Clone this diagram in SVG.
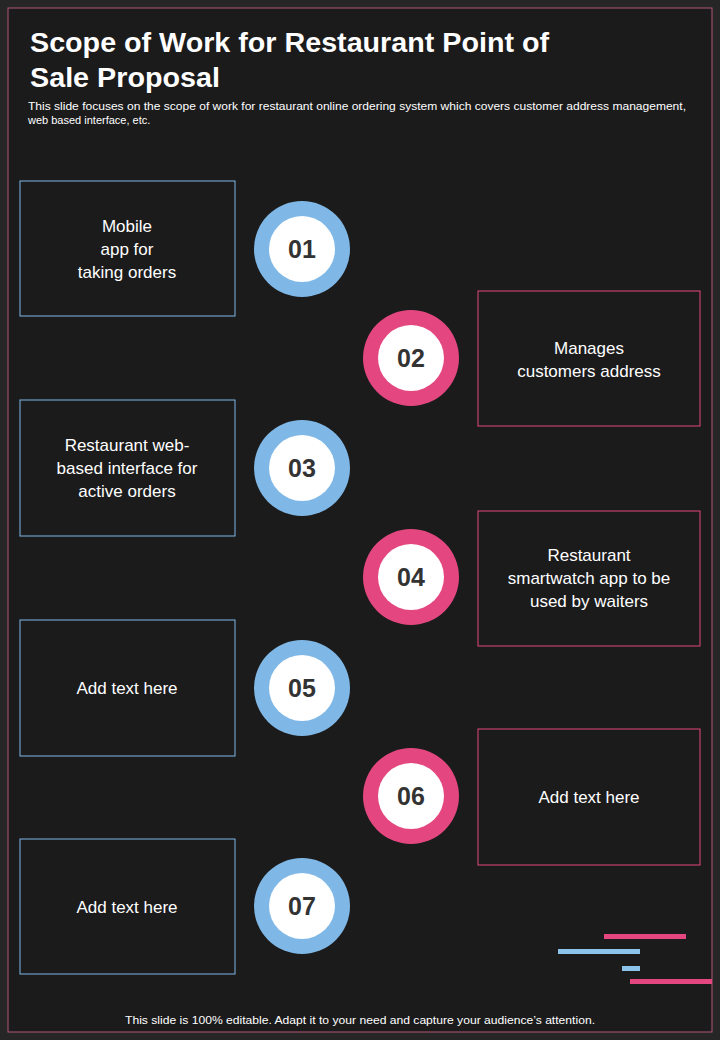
<svg xmlns="http://www.w3.org/2000/svg" width="720" height="1040" viewBox="0 0 720 1040">
<style>
text{font-family:"Liberation Sans",Arial,sans-serif;fill:#fff}
.bl{fill:none;stroke:#7fb8e6;stroke-width:1}
.pk{fill:none;stroke:#e4477f;stroke-width:1}
.cb{fill:#7fb8e6}.cp{fill:#e4477f}.ci{fill:#fff}
.num{fill:#333;font-size:25px;font-weight:bold;text-anchor:middle}
.lbl{font-size:17px;text-anchor:middle}
</style>
<rect width="720" height="1040" fill="#262626"/>
<rect x="8" y="8" width="704" height="1024" fill="#1b1b1c" stroke="#b0567a" stroke-width="1"/>
<text x="30" y="52" font-size="27" font-weight="bold" textLength="519" lengthAdjust="spacingAndGlyphs">Scope of Work for Restaurant Point of</text>
<text x="30" y="87" font-size="27" font-weight="bold" textLength="190" lengthAdjust="spacingAndGlyphs">Sale Proposal</text>
<text x="28" y="110" font-size="11" textLength="658" lengthAdjust="spacingAndGlyphs">This slide focuses on the scope of work for restaurant online ordering system which covers customer address management,</text>
<text x="28" y="124" font-size="11">web based interface, etc.</text>
<g id="n1"><rect class="bl" x="20" y="181" width="215" height="135"/><text class="lbl" x="127" y="232">Mobile</text><text class="lbl" x="127" y="255">app for</text><text class="lbl" x="127" y="278">taking orders</text>
<circle class="cb" cx="302" cy="249" r="48"/><circle class="ci" cx="302" cy="249" r="33"/><text class="num" x="302" y="258">01</text></g>
<g id="n2"><rect class="pk" x="478" y="291" width="222" height="135"/><text class="lbl" x="589" y="354">Manages</text><text class="lbl" x="589" y="377">customers address</text>
<circle class="cp" cx="411" cy="358" r="48"/><circle class="ci" cx="411" cy="358" r="33"/><text class="num" x="411" y="367">02</text></g>
<g id="n3"><rect class="bl" x="20" y="400" width="215" height="136"/><text class="lbl" x="127" y="451">Restaurant web-</text><text class="lbl" x="127" y="474">based interface for</text><text class="lbl" x="127" y="497">active orders</text>
<circle class="cb" cx="302" cy="468" r="48"/><circle class="ci" cx="302" cy="468" r="33"/><text class="num" x="302" y="477">03</text></g>
<g id="n4"><rect class="pk" x="478" y="511" width="222" height="135"/><text class="lbl" x="589" y="561">Restaurant</text><text class="lbl" x="589" y="584">smartwatch app to be</text><text class="lbl" x="589" y="607">used by waiters</text>
<circle class="cp" cx="411" cy="577" r="48"/><circle class="ci" cx="411" cy="577" r="33"/><text class="num" x="411" y="586">04</text></g>
<g id="n5"><rect class="bl" x="20" y="620" width="215" height="136"/><text class="lbl" x="127" y="694">Add text here</text>
<circle class="cb" cx="302" cy="688" r="48"/><circle class="ci" cx="302" cy="688" r="33"/><text class="num" x="302" y="697">05</text></g>
<g id="n6"><rect class="pk" x="478" y="729" width="222" height="136"/><text class="lbl" x="589" y="803">Add text here</text>
<circle class="cp" cx="411" cy="796" r="48"/><circle class="ci" cx="411" cy="796" r="33"/><text class="num" x="411" y="805">06</text></g>
<g id="n7"><rect class="bl" x="20" y="839" width="215" height="135"/><text class="lbl" x="127" y="913">Add text here</text>
<circle class="cb" cx="302" cy="906" r="48"/><circle class="ci" cx="302" cy="906" r="33"/><text class="num" x="302" y="915">07</text></g>
<g id="connectors"></g>
<rect x="604" y="934" width="82" height="5" fill="#e4477f"/>
<rect x="558" y="949" width="82" height="5" fill="#8cc3eb"/>
<rect x="622" y="966" width="18" height="5" fill="#8cc3eb"/>
<rect x="630" y="979" width="82" height="5" fill="#e4477f"/>
<text x="125" y="1024" font-size="11.5" textLength="470" lengthAdjust="spacingAndGlyphs">This slide is 100% editable. Adapt it to your need and capture your audience’s attention.</text>
</svg>
